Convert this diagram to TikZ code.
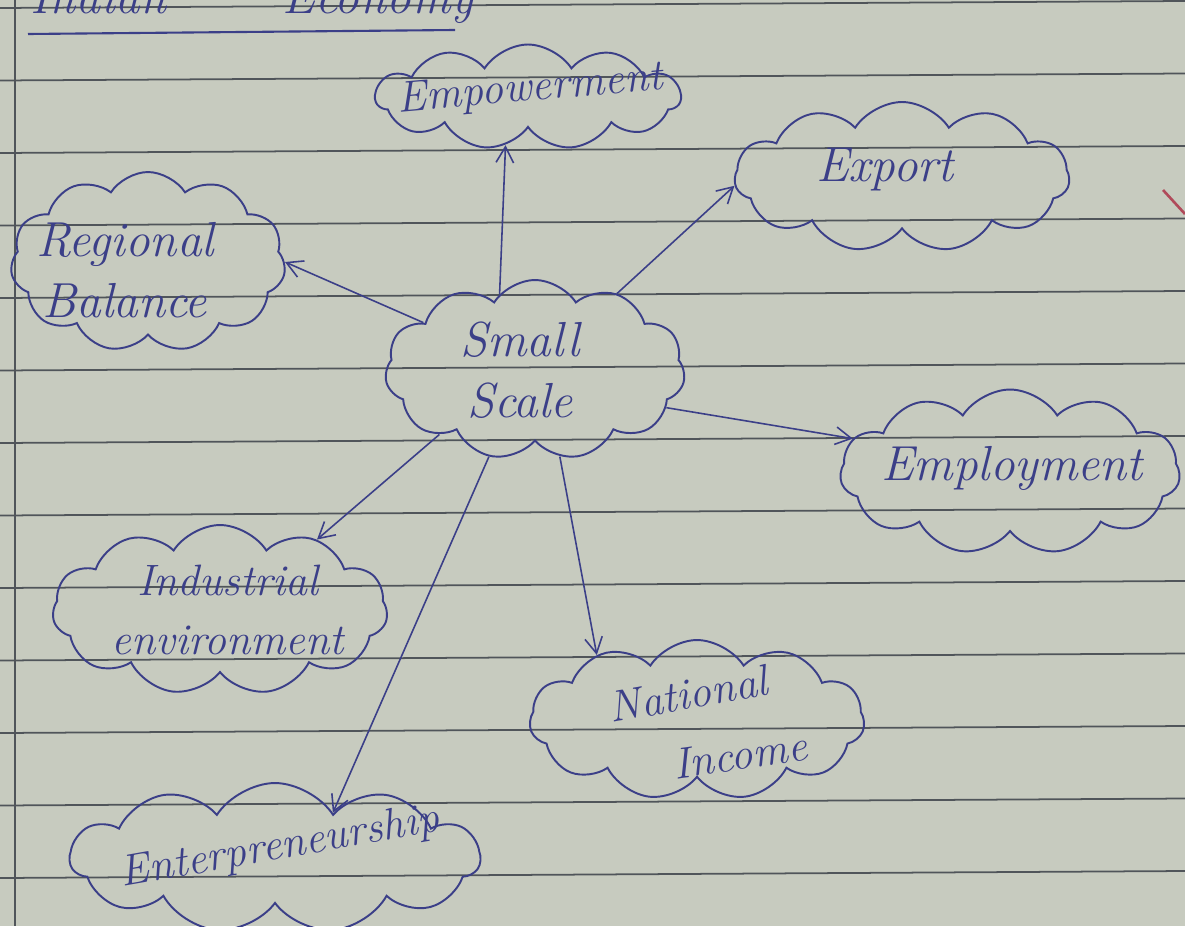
\documentclass[tikz,border=0pt]{standalone}
\usetikzlibrary{shapes.symbols,arrows.meta}
\definecolor{paper}{HTML}{C7CBBF}
\definecolor{rule}{HTML}{50555A}
\definecolor{ink}{HTML}{3B3F88}
\definecolor{redink}{HTML}{B04A5A}
\tikzset{
  x=0.02cm, y=-0.02cm,
  cloudbox/.style={cloud, draw=ink, line width=1.1pt, cloud puffs=11, cloud puff arc=115, cloud ignores aspect, inner sep=0pt},
  lbl/.style={text=ink, font=\fontsize{28}{31}\selectfont\itshape, align=center, inner sep=0pt},
  smalllbl/.style={lbl, font=\fontsize{25}{28}\selectfont\itshape},
  link/.style={draw=ink, line width=0.9pt, -{Straight Barb[length=9pt,width=10pt]}},
  ruled/.style={draw=rule, line width=1pt}
}
\begin{document}
\begin{tikzpicture}
\fill[paper] (0,0) rectangle (1185,926);
\useasboundingbox (0,0) rectangle (1185,926);
\clip (0,0) rectangle (1185,926);
% ruled lines
\foreach \y in {8,80.5,153,225.5,298,370.5,443,515.5,588,660.5,733,805.5,878}
  \draw[ruled] (0,\y) -- (1185,\y-7);
\draw[ruled] (15,0) -- (15,926);
% heading (cut off at top in the reference)
\node[lbl, anchor=base west] (head) at (30,14) {Indian \quad\quad Economy};
\draw[ink, line width=1.2pt] (28,34) -- (455,30);
% red mark
\draw[redink, line width=1.5pt] (1163,190) -- (1185,214);
% clouds
\node[cloudbox, minimum width=6.1cm, minimum height=2.1cm] (emp) at (528,97) {};
\node[cloudbox, minimum width=6.7cm, minimum height=3cm] (exp) at (902,177) {};
\node[cloudbox, minimum width=5.5cm, minimum height=3.6cm] (reg) at (148,262) {};
\node[cloudbox, minimum width=6cm, minimum height=3.6cm] (ss) at (535,370) {};
\node[cloudbox, minimum width=6.8cm, minimum height=3.3cm] (empl) at (1010,472) {};
\node[cloudbox, minimum width=6.7cm, minimum height=3.4cm] (ind) at (220,610) {};
\node[cloudbox, minimum width=6.7cm, minimum height=3.2cm] (nat) at (697,720) {};
\node[cloudbox, minimum width=8.2cm, minimum height=3cm] (ent) at (275,858) {};
% labels
\node[smalllbl, rotate=5] (empt) at (530,90) {Empowerment};
\node[lbl] (expt) at (885,170) {Export};
\node[lbl] (regt) at (125,270) {Regional\\[4pt]Balance};
\node[lbl] (sst) at (520,370) {Small\\[4pt]Scale};
\node[lbl] (emplt) at (1012,468) {Employment};
\node[smalllbl] (indt) at (228,610) {Industrial\\[6pt]environment};
\node[smalllbl, rotate=10] (natt) at (688,694) {National};
\node[smalllbl, rotate=8] (inct) at (740,755) {Income};
\node[smalllbl, rotate=10] (entt) at (280,848) {Enterpreneurship};
% connectors
\draw[link] (ss.115) -- (emp.245);
\draw[link] (ss.43) -- (exp.183);
\draw[link] (ss.157) -- (reg.0);
\draw[link] (ss.-16) -- (empl.168);
\draw[link] (ss.214) -- (ind.36);
\draw[link] (ss.286) -- (nat.147);
\draw[link] (ss.242) -- (ent.38);
\end{tikzpicture}
\end{document}
